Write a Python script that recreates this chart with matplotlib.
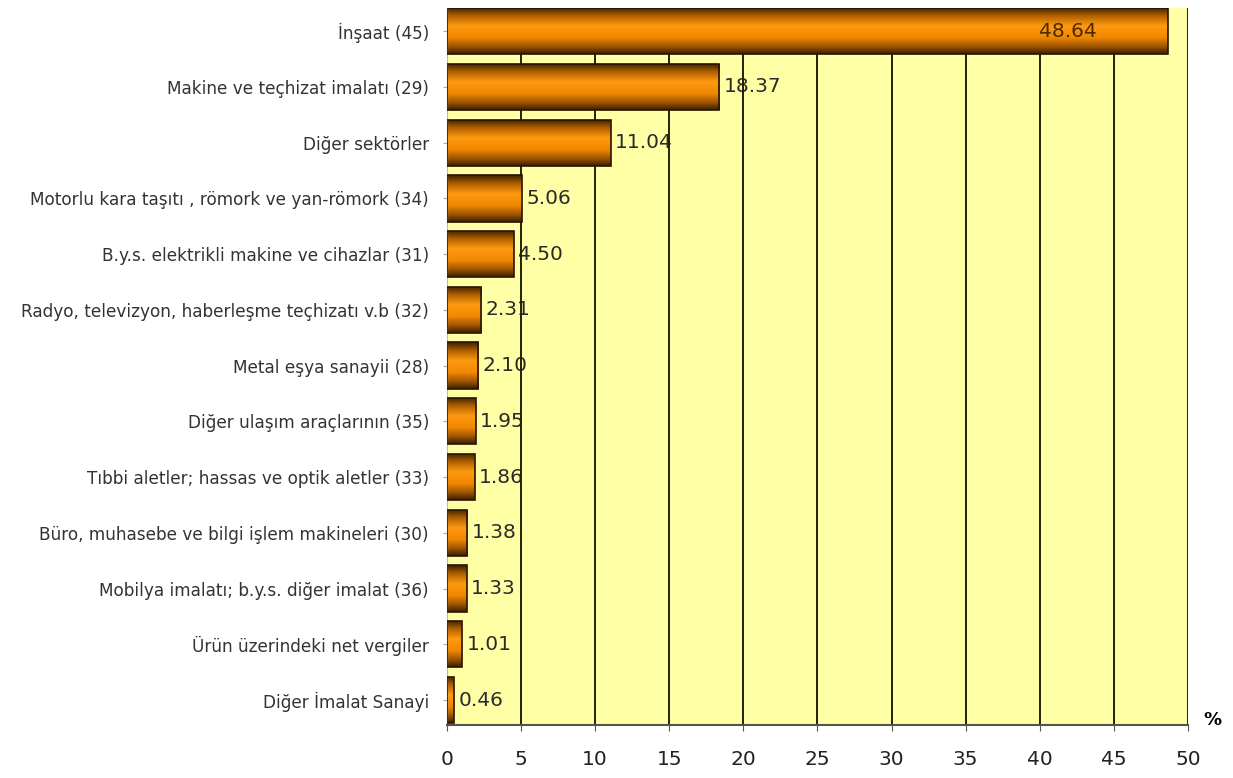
import numpy as np
import matplotlib
matplotlib.use("Agg")
import matplotlib.pyplot as plt
from matplotlib.colors import LinearSegmentedColormap

categories = [
    "İnşaat (45)",
    "Makine ve teçhizat imalatı (29)",
    "Diğer sektörler",
    "Motorlu kara taşıtı , römork ve yan-römork (34)",
    "B.y.s. elektrikli makine ve cihazlar (31)",
    "Radyo, televizyon, haberleşme teçhizatı v.b (32)",
    "Metal eşya sanayii (28)",
    "Diğer ulaşım araçlarının (35)",
    "Tıbbi aletler; hassas ve optik aletler (33)",
    "Büro, muhasebe ve bilgi işlem makineleri (30)",
    "Mobilya imalatı; b.y.s. diğer imalat (36)",
    "Ürün üzerindeki net vergiler",
    "Diğer İmalat Sanayi",
]
values = [48.64, 18.37, 11.04, 5.06, 4.50, 2.31, 2.10, 1.95, 1.86, 1.38, 1.33, 1.01, 0.46]
xticks = [0, 5, 10, 15, 20, 25, 30, 35, 40, 45, 50]

fig = plt.figure(figsize=(12.33, 7.78), dpi=100)
ax = fig.add_axes([0.3625, 0.068, 0.601, 0.922])
ax.set_facecolor("#ffffa6")

n = len(categories)
ypos = np.arange(n)[::-1]
h = 0.83

bars = ax.barh(ypos, values, height=h, color="none", edgecolor="#2a1500", linewidth=1.2, zorder=3)

cmap = LinearSegmentedColormap.from_list(
    "bar", [(0.0, "#3d2000"), (0.15, "#9a5200"), (0.35, "#f08800"),
            (0.6, "#ff9a10"), (0.82, "#b06000"), (1.0, "#3d2000")])
grad = np.linspace(0, 1, 100).reshape(-1, 1)
for b in bars:
    x0, y0 = b.get_x(), b.get_y()
    w, hh = b.get_width(), b.get_height()
    im = ax.imshow(grad, cmap=cmap, aspect="auto", extent=[x0, x0 + w, y0, y0 + hh],
                   origin="lower", zorder=2.5)
    im.set_clip_path(b)

for y, v in zip(ypos, values):
    if v > 40:
        ax.text(v - 4.8, y, f"{v:.2f}", ha="right", va="center", fontsize=14.5, color="#4a2a00", zorder=2.8)
    else:
        ax.text(v + 0.3, y, f"{v:.2f}", ha="left", va="center", fontsize=14.5, color="#2a2a2a", zorder=0.2)

ax.set_xlim(0, 50)
ax.set_ylim(-0.45, n - 0.58)
ax.set_xticks(xticks)
ax.set_xticklabels([str(t) for t in xticks], fontsize=14.5, color="#222222")
ax.set_yticks(ypos)
ax.set_yticklabels(categories, fontsize=12.2, color="#333333")
ax.tick_params(axis="y", length=3, color="#aaaaaa", pad=10)
ax.tick_params(axis="x", length=4, color="#555555", pad=14)
ax.set_axisbelow(True)
ax.xaxis.grid(True, color="#222200", linewidth=1.4)

ax.spines["top"].set_visible(False)
ax.spines["right"].set_visible(False)
ax.spines["left"].set_color("#bbbbbb")
ax.spines["bottom"].set_color("#555544")
ax.spines["bottom"].set_linewidth(1.5)

fig.text(0.983, 0.075, "%", fontsize=13, fontweight="bold", ha="center", va="center")

fig.savefig("out.png", dpi=100)
